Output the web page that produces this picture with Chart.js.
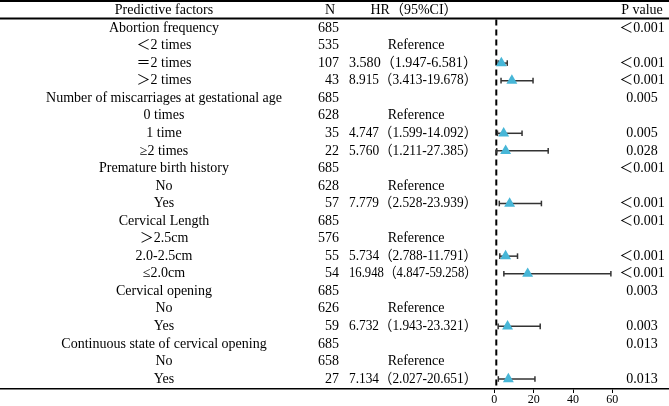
<!DOCTYPE html>
<html>
<head>
<meta charset="utf-8">
<script src="https://cdn.jsdelivr.net/npm/chart.js@4"></script>
<style>
  body { margin: 0; background: #fff; }
</style>
</head>
<body>
<canvas id="forest" width="669" height="406"></canvas>
<script>
// table rows (top to bottom)
const factors = [
  'Abortion frequency', '＜2 times', '＝2 times', '＞2 times',
  'Number of miscarriages at gestational age', '0 times', '1 time', '≥2 times',
  'Premature birth history', 'No', 'Yes',
  'Cervical Length', '＞2.5cm', '2.0-2.5cm', '≤2.0cm',
  'Cervical opening', 'No', 'Yes',
  'Continuous state of cervical opening', 'No', 'Yes'
];
const nValues = [685, 535, 107, 43, 685, 628, 35, 22, 685, 628, 57, 685, 576, 55, 54, 685, 626, 59, 685, 658, 27];
const hrValues = [null, null, 3.580, 8.915, null, null, 4.747, 5.760, null, null, 7.779, null, null, 5.734, 16.948, null, null, 6.732, null, null, 7.134];
const ciLower = [null, null, 1.947, 3.413, null, null, 1.599, 1.211, null, null, 2.528, null, null, 2.788, 4.847, null, null, 1.943, null, null, 2.027];
const ciUpper = [null, null, 6.581, 19.678, null, null, 14.092, 27.385, null, null, 23.939, null, null, 11.791, 59.258, null, null, 23.321, null, null, 20.651];
const isReference = [false, true, false, false, false, true, false, false, false, true, false, false, true, false, false, false, true, false, false, true, false];
const pValues = ['＜0.001', '', '＜0.001', '＜0.001', '0.005', '', '0.005', '0.028', '＜0.001', '', '＜0.001', '＜0.001', '', '＜0.001', '＜0.001', '0.003', '', '0.003', '0.013', '', '0.013'];
const xTicks = [0, 20, 40, 60];
const refHR = 1;

const fmt = v => v.toFixed(3);
const hrText = hrValues.map((v, i) => v === null ? '' : `${fmt(v)}（${fmt(ciLower[i])}-${fmt(ciUpper[i])}）`);

const FONT = '14px "Liberation Serif", "Noto Sans CJK SC", serif';

// 表の文字と罫線
const tablePlugin = {
  id: 'table',
  afterDraw(chart) {
    const { ctx } = chart;
    const y = chart.scales.y;
    ctx.save();
    ctx.fillStyle = '#000';
    ctx.font = FONT;
    ctx.textBaseline = 'middle';

    const hy = y.getPixelForValue(-1);
    ctx.textAlign = 'center';
    ctx.fillText('Predictive factors', 164, hy);
    ctx.fillText('N', 330, hy);
    ctx.fillText('HR（95%CI）', 414, hy);
    ctx.fillText('P value', 642, hy);

    factors.forEach((f, i) => {
      const py = y.getPixelForValue(i);
      ctx.textAlign = 'center';
      ctx.fillText(f, 164, py);
      if (isReference[i]) ctx.fillText('Reference', 416, py);
      ctx.fillText(pValues[i], 642, py);
      ctx.textAlign = 'right';
      ctx.fillText(String(nValues[i]), 339, py);
      if (hrText[i]) {
        // HR列は幅をそろえる
        const w = ctx.measureText(hrText[i]).width;
        ctx.save();
        ctx.textAlign = 'left';
        ctx.translate(349, py);
        ctx.scale(128 / w, 1);
        ctx.fillText(hrText[i], 0, 0);
        ctx.restore();
      }
    });

    // top rules
    ctx.strokeStyle = '#000';
    ctx.lineWidth = 2;
    ctx.beginPath();
    ctx.moveTo(0, 1); ctx.lineTo(chart.width, 1);
    ctx.moveTo(0, 18.5); ctx.lineTo(chart.width, 18.5);
    ctx.stroke();
    ctx.restore();
  },
  beforeDatasetsDraw(chart) {
    const { ctx, chartArea } = chart;
    const px = chart.scales.x.getPixelForValue(refHR);
    ctx.save();
    ctx.strokeStyle = '#000';
    ctx.lineWidth = 2;
    ctx.setLineDash([6, 4]);
    ctx.beginPath();
    ctx.moveTo(px, 19.5);
    ctx.lineTo(px, chartArea.bottom);
    ctx.stroke();
    ctx.restore();
  }
};

const whiskerSets = hrValues.map((v, i) => v === null ? null : {
  type: 'line',
  data: [{ x: ciLower[i], y: i }, { x: ciUpper[i], y: i }],
  borderColor: '#333',
  borderWidth: 1.5,
  pointStyle: 'line',
  rotation: 90,
  pointRadius: 2.8,
  pointBorderColor: '#333',
  pointBorderWidth: 1.5,
  showLine: true,
  fill: false
}).filter(d => d);

const markerSet = {
  type: 'scatter',
  data: hrValues.map((v, i) => v === null ? null : { x: v, y: i }).filter(d => d),
  pointStyle: 'triangle',
  pointRadius: 6.3,
  backgroundColor: '#47b6d7',
  borderWidth: 0
};

new Chart(document.getElementById('forest').getContext('2d'), {
  type: 'scatter',
  data: { datasets: [markerSet, ...whiskerSets] },
  options: {
    responsive: false,
    animation: false,
    layout: { padding: 0, autoPadding: false },
    plugins: { legend: { display: false }, tooltip: { enabled: false } },
    scales: {
      x: {
        type: 'linear',
        min: -251.3,
        max: 88.8,
        afterBuildTicks: scale => { scale.ticks = xTicks.map(v => ({ value: v })); },
        afterFit: scale => { scale.height = 17; },
        grid: { drawOnChartArea: false, drawTicks: true, tickLength: 4, color: '#000', lineWidth: 1 },
        border: { display: true, color: '#000', width: 1.5 },
        ticks: { color: '#000', padding: 0, font: { family: '"Liberation Serif", serif', size: 12 } }
      },
      y: {
        type: 'linear',
        display: false,
        reverse: true,
        min: -1.595,
        max: 20.57
      }
    }
  },
  plugins: [tablePlugin]
});
</script>
</body>
</html>
